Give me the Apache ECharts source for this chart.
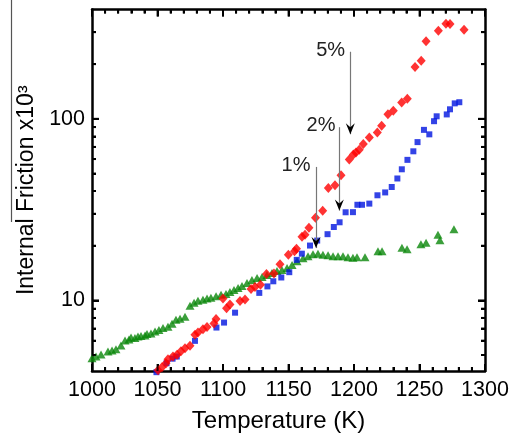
<!DOCTYPE html>
<html><head><meta charset="utf-8">
<script src="https://cdn.jsdelivr.net/npm/echarts@6/dist/echarts.min.js"></script>
<style>html,body{margin:0;padding:0;background:#fff}#c{width:512px;height:438px}</style>
</head><body><div id="c"></div>
<script>
// ---- data (Temperature K, Internal friction x10^3) ----
const greenT = [1000.0,1003.1,1006.9,1012.2,1015.3,1018.3,1022.1,1025.2,1028.2,1029.8,1032.8,1035.1,1037.4,1040.5,1042.0,1045.0,1048.1,1051.1,1054.2,1058.0,1061.1,1064.1,1067.2,1071.0,1074.8,1077.9,1080.9,1084.7,1087.8,1090.8,1094.7,1098.5,1102.3,1105.3,1108.4,1111.5,1114.5,1118.3,1122.1,1126.0,1129.8,1133.6,1137.4,1141.2,1145.0,1148.9,1152.7,1156.5,1161.1,1164.9,1168.7,1172.5,1176.3,1180.2,1184.0,1187.8,1191.6,1195.4,1199.2,1202.3,1208.4,1218.3,1221.4,1236.6,1240.5,1251.1,1255.0,1264.1,1265.6,1276.3];
const greenV = [4.79,4.91,5.03,5.23,5.30,5.37,5.64,6.01,6.09,6.24,6.20,6.32,6.36,6.40,6.52,6.56,6.73,6.86,7.03,7.16,7.44,7.82,7.92,8.13,9.33,9.69,9.94,10.06,10.25,10.32,10.52,10.72,10.85,11.12,11.41,11.70,12.00,12.47,12.95,13.27,13.43,13.77,14.13,14.49,14.68,15.06,15.64,16.44,17.07,17.50,17.95,18.07,17.83,17.72,17.50,17.50,17.50,17.28,17.18,17.28,17.28,18.62,18.62,19.50,19.10,20.37,20.75,22.96,21.43,24.61];

const blueT = [1049.2,1056.9,1061.5,1064.7,1078.6,1095.0,1100.8,1109.2,1127.7,1133.9,1138.4,1144.5,1150.6,1156.3,1160.2,1166.4,1171.9,1179.8,1184.6,1189.0,1193.6,1199.2,1202.6,1206.1,1211.7,1217.9,1223.8,1228.8,1233.1,1236.5,1240.8,1245.3,1248.5,1253.4,1257.5,1261.1,1263.1,1270.8,1273.3,1276.9,1280.4];
const blueV = [4.02,4.50,4.77,4.90,5.98,7.08,7.54,8.55,10.99,11.93,12.73,13.36,14.29,16.71,18.07,20.03,21.34,23.14,25.35,26.91,30.55,30.6,33.6,33.6,34.1,37.9,39.3,42.1,46.9,52.7,59.4,66.2,74.4,86.9,82.1,97.0,103.2,105.7,112.8,121.6,123.4];

const redT = [1050.4,1053.4,1056.5,1058.0,1061.8,1064.9,1067.9,1071.0,1074.8,1078.6,1080.9,1084.7,1087.8,1093.1,1094.7,1100.0,1102.7,1105.3,1113.0,1116.8,1121.4,1124.4,1128.6,1133.2,1138.9,1143.5,1149.9,1154.6,1156.1,1160.3,1162.6,1165.6,1170.6,1176.1,1180.4,1185.5,1190.1,1196.4,1199.5,1201.5,1204.0,1207.1,1211.7,1217.8,1221.1,1225.9,1230.0,1236.4,1240.7,1246.6,1251.3,1255.0,1264.4,1270.2,1273.3,1284.0];
const redV = [4.12,4.28,4.50,4.73,4.90,5.02,5.24,5.44,5.62,6.46,6.64,6.92,7.14,7.45,7.88,10.23,9.04,9.48,9.90,10.10,11.56,11.85,12.20,13.95,14.05,15.81,17.82,18.62,19.22,22.39,22.96,25.07,28.53,31.13,41.55,42.98,48.84,59.75,63.58,65.2,67.6,72.6,78.9,84.1,91.6,105.9,110.7,122.8,129.1,192.8,208.9,267.5,305.6,334,332.5,309.6];

// axes / ticks
const xMin = 1000, xMax = 1300, xStep = 50, xMinorStep = 10;
const yMin = 4.08, yMax = 400;
const yLabelValues = [10, 100];
const yMinorValues = [5,6,7,8,9,20,30,40,50,60,70,80,90,200,300];

// annotations
const annText = ['5%', '2%', '1%'];
const annTextT = [1182.2, 1174.8, 1155.7];
const annTextV = [237, 92.4, 55.2];
const arrowT = [1197.2, 1188.8, 1171.0];
const arrowTopV = [234, 89.9, 54.3];
const arrowTipV = [82.2, 31.2, 19.4];

const pairs = (t, v) => t.map((x, i) => [x, v[i]]);
const font = 'Liberation Sans';
const black = '#000';
const MAJ = 7, MIN = 4, TW = 2;
const lineOn = () => ({show: true, onZero: false, lineStyle: {color: black, width: 2.5}});
const lineOff = () => ({show: false, onZero: false});

// inside tick marks (scatter symbols placed through the axes' scales)
const xTickMajor = [], xTickMinor = [];
for (let t = xMin; t <= xMax; t += xMinorStep) {
  if ((t - xMin) % xStep === 0) xTickMajor.push(t); else xTickMinor.push(t);
}
const xTickItems = [];
xTickMajor.forEach(t => {
  xTickItems.push({value: [t, yMin], symbolSize: [TW, MAJ], symbolOffset: [0, -MAJ / 2]});
  xTickItems.push({value: [t, yMax], symbolSize: [TW, MAJ], symbolOffset: [0, MAJ / 2]});
});
xTickMinor.forEach(t => {
  xTickItems.push({value: [t, yMin], symbolSize: [TW, MIN], symbolOffset: [0, -MIN / 2]});
  xTickItems.push({value: [t, yMax], symbolSize: [TW, MIN], symbolOffset: [0, MIN / 2]});
});
const yTickItems = [];
yLabelValues.forEach(v => {
  yTickItems.push({value: [xMin, v], symbolSize: [MAJ, TW], symbolOffset: [MAJ / 2, 0]});
  yTickItems.push({value: [xMax, v], symbolSize: [MAJ, TW], symbolOffset: [-MAJ / 2, 0]});
});
yMinorValues.forEach(v => {
  yTickItems.push({value: [xMin, v], symbolSize: [MIN, TW], symbolOffset: [MIN / 2, 0]});
  yTickItems.push({value: [xMax, v], symbolSize: [MIN, TW], symbolOffset: [-MIN / 2, 0]});
});

const xTickStyle = {show: true, inside: true, length: MAJ, lineStyle: {color: black, width: TW}};
const xMinorStyle = {show: true, splitNumber: 5, length: MIN, lineStyle: {color: black, width: TW}};
function yTickAxis(pos, values, len) {
  return {type: 'log', position: pos, min: yMin, max: yMax, axisLine: lineOff(), splitLine: {show: false},
          axisLabel: {show: false},
          axisTick: {show: true, inside: true, length: len, customValues: values, lineStyle: {color: black, width: TW}}};
}

const arrowPath = 'path://M0,0 L5,11 L10,0 L5,4 Z';

const chart = echarts.init(document.getElementById('c'), null, {renderer: 'canvas'});
chart.setOption({
  animation: false,
  backgroundColor: '#fff',
  grid: {left: 92, right: 27, top: 9.5, bottom: 64.7},
  xAxis: [
    {type: 'value', position: 'bottom', min: xMin, max: xMax, interval: xStep,
     axisLine: lineOn(), axisTick: xTickStyle, minorTick: xMinorStyle,
     splitLine: {show: false}, minorSplitLine: {show: false},
     axisLabel: {show: true, fontSize: 21.5, color: black, fontFamily: font, margin: 8,
                 showMinLabel: true, showMaxLabel: true, formatter: v => String(v)},
     name: 'Temperature (K)', nameLocation: 'middle', nameGap: 38,
     nameTextStyle: {fontSize: 24, color: black, fontFamily: font, padding: [0, 20, 0, 0]}},
    {type: 'value', position: 'top', min: xMin, max: xMax, interval: xStep,
     axisLine: lineOn(), axisTick: xTickStyle, minorTick: xMinorStyle,
     splitLine: {show: false}, minorSplitLine: {show: false}, axisLabel: {show: false}}
  ],
  yAxis: [
    {type: 'log', position: 'left', min: yMin, max: yMax,
     axisLine: lineOn(), axisTick: {show: false}, splitLine: {show: false},
     axisLabel: {show: true, customValues: yLabelValues, fontSize: 21.5, color: black, fontFamily: font, margin: 7,
                 formatter: v => String(v)},
     name: 'Internal Friction x10\u00B3', nameLocation: 'middle', nameGap: 52,
     nameTextStyle: {fontSize: 23, color: black, fontFamily: font}},
    {type: 'log', position: 'right', min: yMin, max: yMax,
     axisLine: lineOn(), axisTick: {show: false}, splitLine: {show: false}, axisLabel: {show: false}},
    yTickAxis('left', yLabelValues, MAJ),
    yTickAxis('left', yMinorValues, MIN),
    yTickAxis('right', yLabelValues, MAJ),
    yTickAxis('right', yMinorValues, MIN)
  ],
  graphic: [{
    type: 'line', shape: {x1: 11.5, y1: 0, x2: 11.5, y2: 222},
    style: {stroke: '#555', lineWidth: 1.2}, silent: true
  }],
  series: [
    {type: 'scatter', name: 'green', data: pairs(greenT, greenV), symbol: 'triangle', symbolSize: [9, 8],
     itemStyle: {color: '#0a870a'}, clip: false},
    {type: 'scatter', name: 'blue', data: pairs(blueT, blueV), symbol: 'rect', symbolSize: 6,
     itemStyle: {color: '#0014e0'}, clip: false},
    {type: 'scatter', name: 'red', data: pairs(redT, redV), symbol: 'diamond', symbolSize: [9, 10],
     itemStyle: {color: '#ff0000'}, clip: false},
    {type: 'scatter', name: 'xticks', data: xTickItems, symbol: 'rect', itemStyle: {color: black},
     silent: true, clip: false, emphasis: {disabled: true}},
    {type: 'scatter', name: 'yticks', data: yTickItems, symbol: 'rect', itemStyle: {color: black},
     silent: true, clip: false, emphasis: {disabled: true}},
    {type: 'scatter', name: 'annot', data: [], silent: true,
     markLine: {
       silent: true, symbol: ['none', 'none'], label: {show: false},
       lineStyle: {color: '#777', width: 1.2, type: 'solid'},
       data: arrowT.map((t, i) => [{coord: [t, arrowTopV[i]]}, {coord: [t, arrowTipV[i]]}])
     },
     markPoint: {
       silent: true,
       data: arrowT.map((t, i) => ({coord: [t, arrowTipV[i]], symbol: arrowPath, symbolSize: [9, 11],
               symbolOffset: [0, -5.5], itemStyle: {color: black}, label: {show: false}}))
         .concat(annText.map((s, i) => ({coord: [annTextT[i], annTextV[i]], symbol: 'circle', symbolSize: 0,
               itemStyle: {color: 'transparent'},
               label: {show: true, position: 'inside', formatter: s, fontSize: 20, color: '#222', fontFamily: font}})))
     }
    }
  ]
});
</script>
</body></html>
